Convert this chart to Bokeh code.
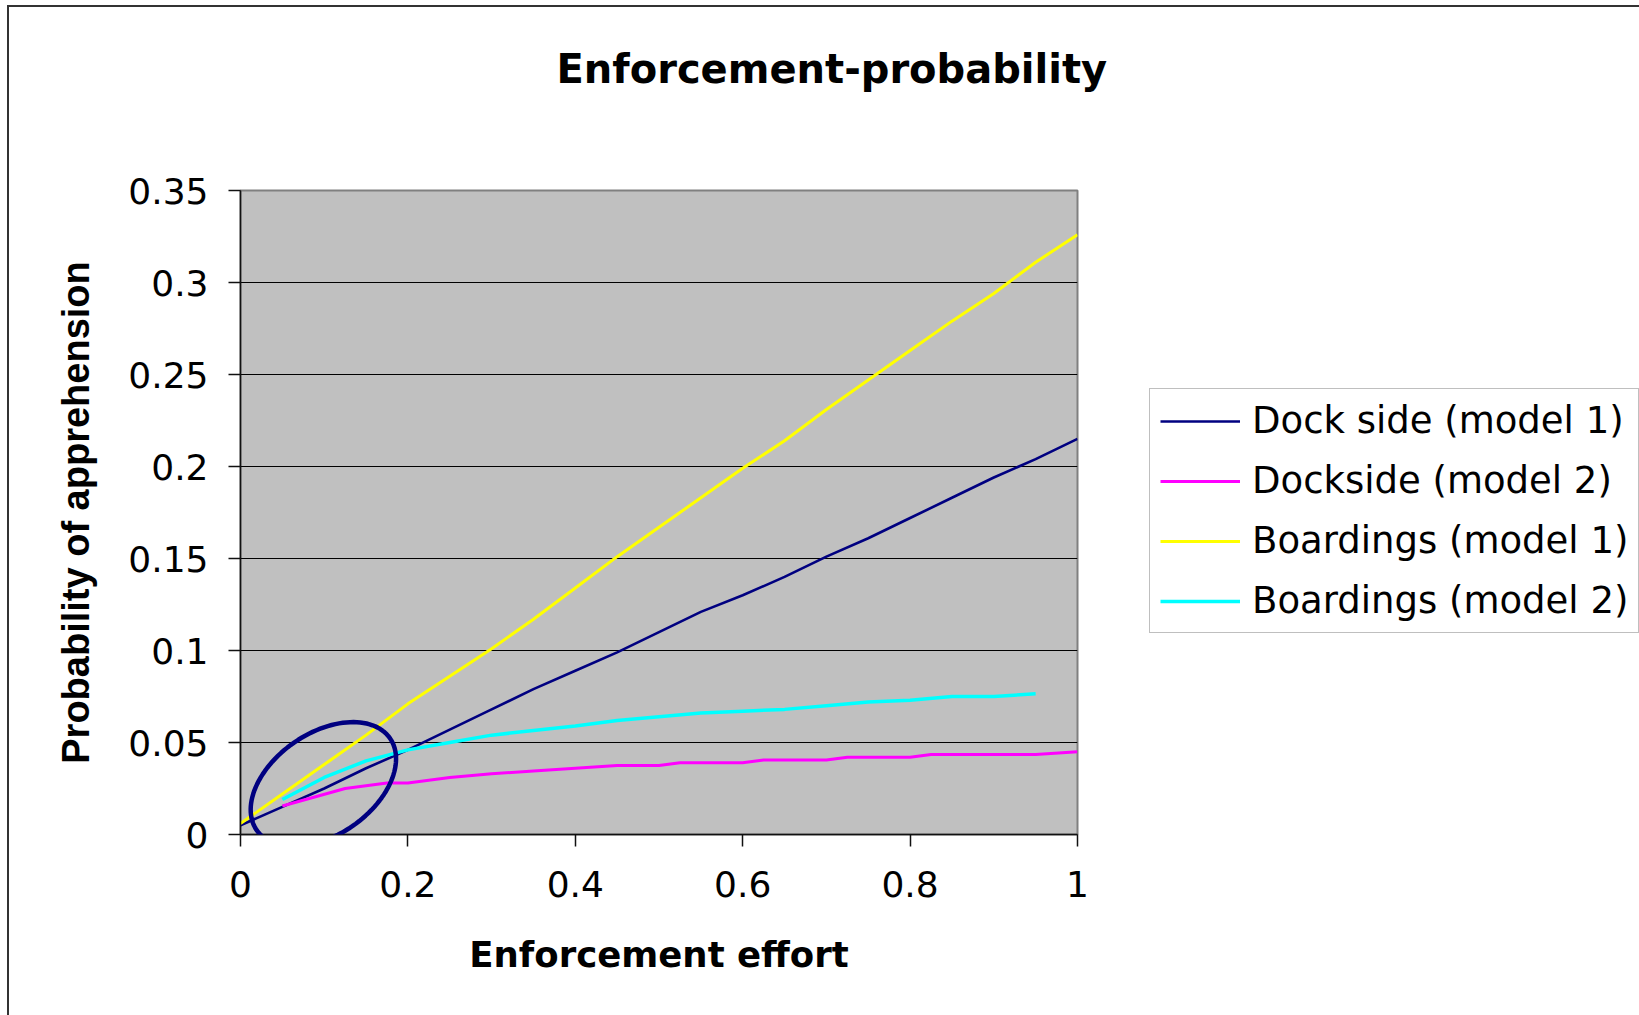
import math

from bokeh.embed import file_html
from bokeh.layouts import row
from bokeh.models import FixedTicker, Legend, LegendItem, PolyAnnotation, Range1d, Title
from bokeh.plotting import figure
from bokeh.resources import INLINE

# ---- data -------------------------------------------------------------
effort = [0.0, 0.05, 0.1, 0.15, 0.2, 0.25, 0.3, 0.35, 0.4, 0.45, 0.5,
          0.55, 0.6, 0.65, 0.7, 0.75, 0.8, 0.85, 0.9, 0.95, 1.0]

dock_side_m1 = [0.005, 0.015, 0.025, 0.036, 0.046, 0.057, 0.068, 0.079, 0.089, 0.099, 0.110,
                0.121, 0.130, 0.140, 0.151, 0.161, 0.172, 0.183, 0.194, 0.204, 0.215]

boardings_m1 = [0.006, 0.022, 0.038, 0.054, 0.071, 0.086, 0.101, 0.117, 0.134, 0.151, 0.167,
                0.183, 0.199, 0.214, 0.231, 0.247, 0.263, 0.279, 0.294, 0.311, 0.326]

boardings_m2_effort = [0.05, 0.1, 0.15, 0.2, 0.25, 0.3, 0.35, 0.4, 0.45, 0.5,
                       0.55, 0.6, 0.65, 0.7, 0.75, 0.8, 0.85, 0.9, 0.95]
boardings_m2 = [0.019, 0.031, 0.040, 0.046, 0.050, 0.054, 0.0565, 0.059, 0.062, 0.064,
                0.066, 0.067, 0.068, 0.070, 0.072, 0.073, 0.075, 0.075, 0.0765]

dockside_m2_effort = [0.05, 0.125, 0.175, 0.2, 0.25, 0.3, 0.35, 0.4, 0.45, 0.5,
                      0.525, 0.6, 0.625, 0.7, 0.725, 0.8, 0.825, 0.95, 1.0]
dockside_m2 = [0.0155, 0.025, 0.028, 0.028, 0.031, 0.033, 0.0345, 0.036, 0.0375, 0.0375,
               0.039, 0.039, 0.0405, 0.0405, 0.042, 0.042, 0.0435, 0.0435, 0.045]

series_labels = ["Dock side (model 1)", "Dockside (model 2)",
                 "Boardings (model 1)", "Boardings (model 2)"]
series_colors = ["#000080", "#FF00FF", "#FFFF00", "#00FFFF"]
series_widths = [2.6, 3, 3, 3.5]

x_ticks = [0, 0.2, 0.4, 0.6, 0.8, 1]
x_tick_labels = ["0", "0.2", "0.4", "0.6", "0.8", "1"]
y_ticks = [0, 0.05, 0.1, 0.15, 0.2, 0.25, 0.3, 0.35]
y_tick_labels = ["0", "0.05", "0.1", "0.15", "0.2", "0.25", "0.3", "0.35"]

chart_title = "Enforcement-probability"

# region of low effort that is ringed on the chart
highlight_center = (0.099, 0.0273)

# ---- layout -----------------------------------------------------------
H = 1008
W_MAIN, W_LEG = 1131, 499
B_LEFT, B_TOP, B_BOTTOM = 231, 182, 181
FRAME_W = 837
B_RIGHT = W_MAIN - B_LEFT - FRAME_W
X_MAX, Y_MAX = 1.0, 0.35
frame_h = H - B_TOP - B_BOTTOM

p = figure(width=W_MAIN, height=H, output_backend="svg", toolbar_location=None,
           x_range=Range1d(0, X_MAX), y_range=Range1d(0, Y_MAX),
           min_border_left=B_LEFT, min_border_right=B_RIGHT,
           min_border_top=B_TOP, min_border_bottom=B_BOTTOM)

p.background_fill_color = "#C0C0C0"
p.border_fill_color = "white"
p.outline_line_color = "#808080"
p.outline_line_width = 2

# title, kept clear of the plot area by a blank band beneath it
p.add_layout(Title(text=" ", text_font_size="10px", standoff=46), "above")
p.title.text = chart_title
p.title.text_color = "black"
p.title.text_font = "DejaVu Sans"
p.title.text_font_style = "bold"
p.title.text_font_size = "40px"
p.title.align = "left"
p.title.vertical_align = "top"
p.title.offset = 316
p.title.standoff = 76

# axes
for ax in (p.xaxis[0], p.yaxis[0]):
    ax.axis_line_color = "#111111"
    ax.axis_line_width = 1.5
    ax.major_tick_line_color = "#111111"
    ax.major_tick_line_width = 1.5
    ax.major_tick_out = 12
    ax.major_tick_in = 0
    ax.minor_tick_line_color = None
    ax.major_label_text_font = "DejaVu Sans"
    ax.major_label_text_font_size = "36px"
    ax.major_label_text_color = "black"
    ax.axis_label_text_color = "black"
    ax.axis_label_text_font_style = "bold"

p.xaxis.ticker = FixedTicker(ticks=x_ticks)
p.xaxis.major_label_overrides = dict(zip(x_ticks, x_tick_labels))
p.xaxis.major_label_standoff = 24
p.xaxis.axis_label = "Enforcement effort"
p.xaxis.axis_label_text_font = "DejaVu Sans"
p.xaxis.axis_label_text_font_size = "35.5px"
p.xaxis.axis_label_standoff = 34

p.yaxis.ticker = FixedTicker(ticks=y_ticks)
p.yaxis.major_label_overrides = dict(zip(y_ticks, y_tick_labels))
p.yaxis.major_label_standoff = 20
p.yaxis.axis_label = "Probability of apprehension"
p.yaxis.axis_label_text_font = "Liberation Sans"
p.yaxis.axis_label_text_font_size = "38px"
p.yaxis.axis_label_standoff = 28

p.xgrid.grid_line_color = None
p.ygrid.grid_line_color = "black"
p.ygrid.grid_line_width = 1

# series
series_x = [effort, dockside_m2_effort, effort, boardings_m2_effort]
series_y = [dock_side_m1, dockside_m2, boardings_m1, boardings_m2]
for xs, ys, c, w in zip(series_x, series_y, series_colors, series_widths):
    p.line(xs, ys, line_color=c, line_width=w)

# tilted ring drawn in pixel space, converted to data units
px_x = FRAME_W / X_MAX
px_y = frame_h / Y_MAX
semi_a, semi_b, tilt = 81.0, 51.0, math.radians(34.6)
ring_x, ring_y = [], []
for k in range(121):
    t = 2 * math.pi * k / 120
    dx = semi_a * math.cos(t) * math.cos(tilt) - semi_b * math.sin(t) * math.sin(tilt)
    dy = semi_a * math.cos(t) * math.sin(tilt) + semi_b * math.sin(t) * math.cos(tilt)
    ring_x.append(highlight_center[0] + dx / px_x)
    ring_y.append(highlight_center[1] + dy / px_y)
p.add_layout(PolyAnnotation(xs=ring_x, ys=ring_y, fill_color=None, fill_alpha=0,
                            line_color="#000080", line_alpha=1.0, line_width=4.5))

# ---- legend panel to the right ----------------------------------------
q = figure(width=W_LEG, height=H, output_backend="svg", toolbar_location=None,
           x_range=Range1d(0, 1), y_range=Range1d(0, 1),
           min_border_left=0, min_border_right=0, min_border_top=0, min_border_bottom=0)
q.axis.visible = False
q.grid.visible = False
q.outline_line_color = None
q.background_fill_color = "white"
q.border_fill_color = "white"

# key swatches: styled like the series, holding no visible points
key_renderers = [q.line([math.nan], [math.nan], line_color=c, line_width=w)
                 for c, w in zip(series_colors, series_widths)]
legend = Legend(items=[LegendItem(label=lab, renderers=[r])
                       for lab, r in zip(series_labels, key_renderers)],
                location=(9, 201))
legend.label_text_font = "DejaVu Sans"
legend.label_text_font_size = "37px"
legend.label_text_color = "black"
legend.glyph_width = 80
legend.label_standoff = 12
legend.spacing = 17
legend.padding = 10
legend.margin = 0
legend.border_line_color = "#808080"
legend.border_line_width = 1.5
legend.background_fill_color = "white"
q.add_layout(legend)

page = row(p, q, spacing=0,
           styles={"margin-left": "7px", "margin-top": "5px",
                   "border-left": "2px solid #333333", "border-top": "2px solid #333333"})

open("out.html", "w").write(file_html(page, INLINE))
